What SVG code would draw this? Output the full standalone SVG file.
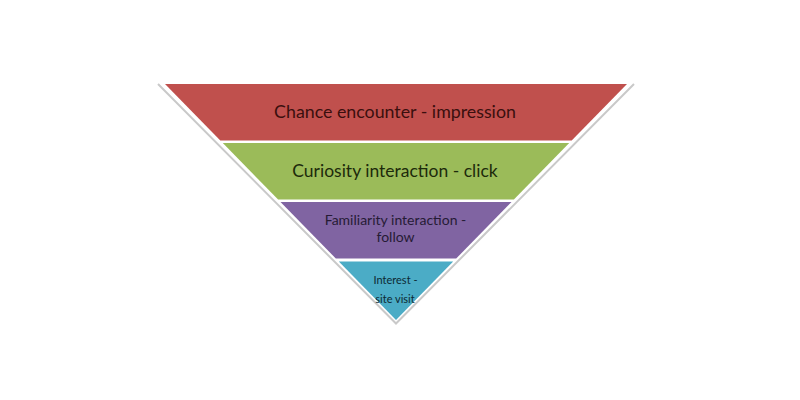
<svg xmlns="http://www.w3.org/2000/svg" width="800" height="400" viewBox="0 0 800 400">
<style>
.band{stroke:none}
.lbl{font-family:Lato,"Liberation Sans",sans-serif;text-anchor:middle}
</style>
<rect width="800" height="400" fill="#ffffff"/>
<g id="shadow">
<polyline points="158,84 396,323.5 634,84" fill="none" stroke="#c9c9c9" stroke-width="2"/>
</g>
<g id="band1">
<polygon class="band" points="165,84 627,84 571.7,140.5 220.3,140.5" fill="#c0504d"/>
<text class="lbl" x="395" y="118" font-size="17.8" fill="#3a0f0e">Chance encounter - impression</text>
</g>
<g id="band2">
<polygon class="band" points="222.8,143 569.2,143 513.9,199.5 278.1,199.5" fill="#9bbb59"/>
<text class="lbl" x="395" y="177" font-size="17.5" fill="#1d2a0b">Curiosity interaction - click</text>
</g>
<g id="band3">
<polygon class="band" points="280.5,202 511.5,202 456.2,258.5 335.8,258.5" fill="#8064a2"/>
<text class="lbl" x="395.5" y="225" font-size="14" fill="#261b35">Familiarity interaction -</text>
<text class="lbl" x="395.5" y="241.5" font-size="14" fill="#261b35">follow</text>
</g>
<g id="band4">
<polygon class="band" points="338.8,261.5 453.2,261.5 396,320" fill="#4bacc6"/>
<text class="lbl" x="395.5" y="284" font-size="11" fill="#0d2a33">Interest -</text>
<text class="lbl" x="395" y="303" font-size="11" fill="#0d2a33">site visit</text>
</g>
</svg>
